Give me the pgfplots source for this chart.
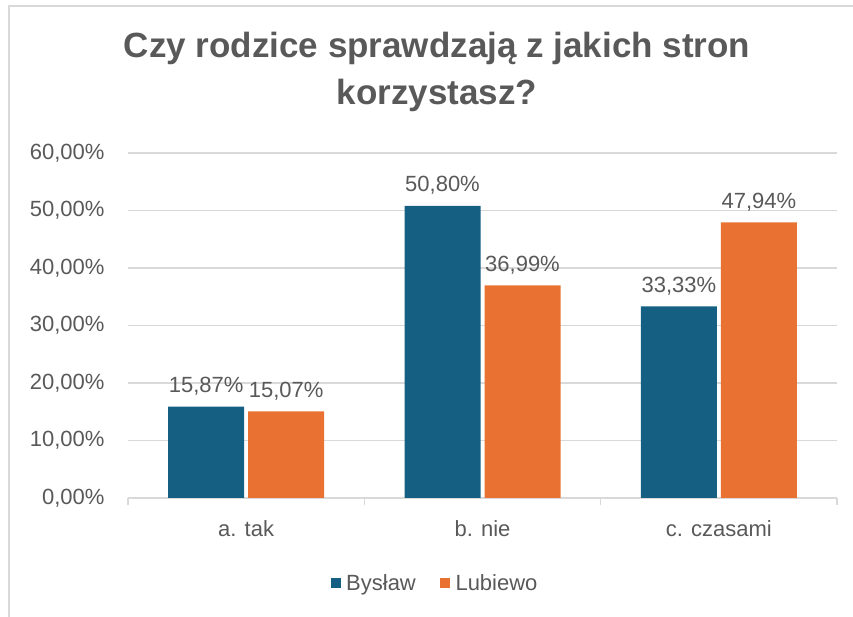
\documentclass[border=0pt]{standalone}
\usepackage{fontspec}
\setmainfont{Liberation Sans}
\usepackage{pgfplots}
\pgfplotsset{compat=1.18}
\definecolor{cblue}{HTML}{156082}
\definecolor{corange}{HTML}{E97132}
\definecolor{cgrid}{HTML}{D9D9D9}
\definecolor{ctext}{HTML}{595959}
\begin{document}
\begin{tikzpicture}[x=1bp,y=1bp]
\useasboundingbox (0,0) rectangle (853,617);
\draw[cgrid, line width=1.5bp] (9,0) -- (9,611) -- (853,611);
\node[ctext, font=\fontsize{35bp}{47bp}\selectfont\bfseries, align=center] at (437,545) {Czy rodzice sprawdzają z jakich stron\\korzystasz?};
\begin{axis}[
  at={(128bp,119bp)}, anchor=south west,
  scale only axis, width=709bp, height=345bp,
  xmin=-0.5, xmax=2.5, ymin=0, ymax=60,
  ybar=4bp, bar width=76bp,
  axis lines*=left,
  axis line style={cgrid, line width=1.5bp, -},
  y axis line style={draw=none},
  xtick={0,1,2},
  xticklabels={a. tak, b. nie, c. czasami},
  minor xtick={-0.5,0.5,1.5,2.5},
  xtick style={draw=none},
  minor x tick style={draw=cgrid, line width=1.5bp},
  xtick align=outside,
  minor tick length=7bp,
  ytick={0,10,20,30,40,50,60},
  yticklabels={{0,00\%},{10,00\%},{20,00\%},{30,00\%},{40,00\%},{50,00\%},{60,00\%}},
  ymajorgrids, grid style={cgrid, line width=1.5bp},
  ytick style={draw=none},
  ticklabel style={ctext, font=\fontsize{22bp}{26bp}\selectfont},
  xticklabel style={yshift=-15bp},
  yticklabel style={anchor=east, xshift=-20bp},
  point meta=explicit symbolic,
  nodes near coords,
  every node near coord/.append style={ctext, font=\fontsize{22bp}{26bp}\selectfont, anchor=base, yshift=14bp},
  legend style={at={(0.433,-0.246)}, anchor=center, draw=none, legend columns=2,
    font=\fontsize{22bp}{26bp}\selectfont, text=ctext,
    /tikz/every even column/.append style={column sep=22bp}},
  legend image code/.code={\fill[#1] (0bp,-5bp) rectangle (10bp,5bp);},
  legend cell align=left,
  clip=false,
]
\addplot[fill=cblue, draw=none] coordinates {(0,15.87) [15,87\%] (1,50.80) [50,80\%] (2,33.33) [33,33\%]};
\addplot[fill=corange, draw=none] coordinates {(0,15.07) [15,07\%] (1,36.99) [36,99\%] (2,47.94) [47,94\%]};
\legend{\,Bysław, \,Lubiewo}
\end{axis}
\end{tikzpicture}
\end{document}
